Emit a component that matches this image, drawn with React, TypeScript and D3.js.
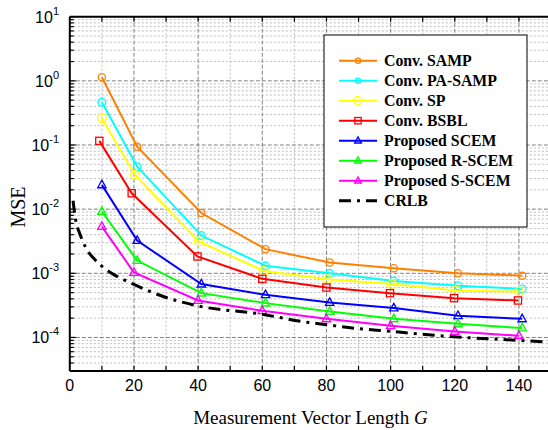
import React from "react";
import * as d3 from "d3";

// ---- Data ----
const sampX = [10, 21, 41, 61, 81, 101, 121, 141];
const sampY = [1.14, 0.094, 0.0087, 0.00238, 0.00147, 0.0012, 0.001, 0.00092];

const paSampX = [10, 21, 41, 61, 81, 101, 121, 141];
const paSampY = [0.464, 0.0461, 0.00388, 0.00131, 0.001, 0.00076, 0.00064, 0.00057];

const spX = [10, 20.3, 40.2, 60.5, 80.3, 100.5, 120.3, 140];
const spY = [0.261, 0.0342, 0.00313, 0.00109, 0.00081, 0.00068, 0.00054, 0.00052];

const bsblX = [9.2, 19.3, 39.8, 60, 80, 99.8, 119.8, 139.7];
const bsblY = [0.116, 0.0177, 0.00183, 0.00082, 0.0006, 0.00049, 0.00041, 0.000377];

const scemX = [10, 21, 41, 61, 81, 101, 121, 141];
const scemY = [0.0239, 0.00324, 0.000679, 0.000462, 0.00035, 0.000287, 0.000218, 0.000195];

const rscemX = [10, 21, 41, 61, 81, 101, 121, 141];
const rscemY = [0.00918, 0.00158, 0.000491, 0.000343, 0.000254, 0.000195, 0.000163, 0.00014];

const sscemX = [10, 20, 40, 60, 80, 100, 120, 140];
const sscemY = [0.00535, 0.00103, 0.000377, 0.00026, 0.000195, 0.000152, 0.000124, 0.000106];

const crlbX = [1, 2, 3, 5, 8, 11.5, 15, 20, 30, 40, 60, 72, 80, 90, 100, 106, 118, 140, 150];
const crlbY = [0.0135, 0.0061, 0.0043, 0.0025, 0.0016, 0.00113, 0.00088, 0.00067, 0.00042, 0.00031, 0.00023, 0.000178, 0.000158, 0.000137, 0.000125, 0.000117, 0.000104, 0.00009, 0.000084];

const legendLabels = [
  "Conv. SAMP",
  "Conv. PA-SAMP",
  "Conv. SP",
  "Conv. BSBL",
  "Proposed SCEM",
  "Proposed R-SCEM",
  "Proposed S-SCEM",
  "CRLB",
];

const xTicks = [0, 20, 40, 60, 80, 100, 120, 140];
const yExponents = [-4, -3, -2, -1, 0, 1];

type Series = { label: string; xs: number[]; ys: number[]; color: string; marker: string; size: number };

const series: Series[] = [
  { label: legendLabels[0], xs: sampX, ys: sampY, color: "#FF8000", marker: "circle", size: 3.6 },
  { label: legendLabels[1], xs: paSampX, ys: paSampY, color: "#00FFFF", marker: "circle", size: 3.8 },
  { label: legendLabels[2], xs: spX, ys: spY, color: "#FFFF00", marker: "circle", size: 4.3 },
  { label: legendLabels[3], xs: bsblX, ys: bsblY, color: "#FF0000", marker: "square", size: 3.6 },
  { label: legendLabels[4], xs: scemX, ys: scemY, color: "#0000FF", marker: "triangle", size: 4 },
  { label: legendLabels[5], xs: rscemX, ys: rscemY, color: "#00FF00", marker: "triangle", size: 4 },
  { label: legendLabels[6], xs: sscemX, ys: sscemY, color: "#FF00FF", marker: "triangle", size: 4 },
];

const W = 548;
const H = 430;
const left = 69.8;
const right = 551;
const top = 16.7;
const bottom = 371;

function Marker({ type, x, y, s, color }: { type: string; x: number; y: number; s: number; color: string }) {
  if (type === "circle") return <circle cx={x} cy={y} r={s} fill="none" stroke={color} strokeWidth={1.3} />;
  if (type === "square")
    return <rect x={x - s} y={y - s} width={2 * s} height={2 * s} fill="none" stroke={color} strokeWidth={1.3} />;
  const h = s * 1.9;
  const p = `M${x},${y - h * 0.62} L${x + s * 1.05},${y + h * 0.38} L${x - s * 1.05},${y + h * 0.38} Z`;
  return <path d={p} fill="none" stroke={color} strokeWidth={1.3} />;
}

export default function App() {
  const x = d3.scaleLinear().domain([0, 150]).range([left, right]);
  const y = d3.scaleLog().domain([3e-5, 10]).range([bottom, top]);

  const line = d3
    .line<[number, number]>()
    .x((d) => x(d[0]))
    .y((d) => y(d[1]));
  const crlbLine = d3
    .line<[number, number]>()
    .x((d) => x(d[0]))
    .y((d) => y(d[1]))
    .curve(d3.curveMonotoneX);

  const minorY: number[] = [];
  for (let e = -5; e <= 0; e++) {
    for (let m = 2; m <= 9; m++) {
      const v = m * Math.pow(10, e);
      if (v >= 3e-5 && v <= 10) minorY.push(v);
    }
  }
  const majorY = yExponents.map((e) => Math.pow(10, e));
  const minorX = d3.range(10, 151, 20);
  const majorX = d3.range(20, 141, 20);
  const allX = d3.range(10, 151, 10);

  const legX = 324;
  const legY = 35;
  const legW = 203;
  const legH = 192;

  return (
    <svg width={W} height={H} style={{ position: "absolute", left: 0, top: 0 }} fontFamily="'Liberation Sans', Arial, sans-serif">
      <defs>
        <clipPath id="plotclip">
          <rect x={left} y={top} width={right - left} height={bottom - top} />
        </clipPath>
      </defs>
      <rect x={0} y={0} width={W} height={H} fill="#fff" />
      {/* grid */}
      <g>
        {minorY.map((v, i) => (
          <line key={"my" + i} x1={left} x2={right} y1={y(v)} y2={y(v)} stroke="#bdbdbd" strokeWidth={1} strokeDasharray="2,2" />
        ))}
        {minorX.map((v, i) => (
          <line key={"mx" + i} x1={x(v)} x2={x(v)} y1={top} y2={bottom} stroke="#bdbdbd" strokeWidth={1} strokeDasharray="2,2" />
        ))}
        {majorY.map((v, i) => (
          <line key={"My" + i} x1={left} x2={right} y1={y(v)} y2={y(v)} stroke="#808080" strokeWidth={1} strokeDasharray="4,2" />
        ))}
        {majorX.map((v, i) => (
          <line key={"Mx" + i} x1={x(v)} x2={x(v)} y1={top} y2={bottom} stroke="#808080" strokeWidth={1} strokeDasharray="4,2" />
        ))}
      </g>
      {/* data */}
      <g clipPath="url(#plotclip)">
        {series.map((s, i) => (
          <g key={"s" + i}>
            <path
              d={line(s.xs.map((xv, j) => [xv, s.ys[j]] as [number, number])) || ""}
              fill="none"
              stroke={s.color}
              strokeWidth={2}
            />
            {s.xs.map((xv, j) => (
              <Marker key={j} type={s.marker} x={x(xv)} y={y(s.ys[j])} s={s.size} color={s.color} />
            ))}
          </g>
        ))}
        <path
          d={crlbLine(crlbX.map((xv, j) => [xv, crlbY[j]] as [number, number])) || ""}
          fill="none"
          stroke="#000"
          strokeWidth={3}
          strokeDasharray="12,6,3,6"
        />
      </g>
      {/* axes */}
      <g stroke="#000">
        <line x1={left} x2={right} y1={bottom} y2={bottom} strokeWidth={2} />
        <line x1={left} x2={right} y1={top} y2={top} strokeWidth={2} />
        <line x1={left} x2={left} y1={top} y2={bottom} strokeWidth={2} />
        {allX.map((v, i) => (
          <g key={"tx" + i}>
            <line x1={x(v)} x2={x(v)} y1={bottom} y2={bottom - 5} strokeWidth={1.2} />
            <line x1={x(v)} x2={x(v)} y1={top} y2={top + 5} strokeWidth={1.2} />
          </g>
        ))}
        {majorY.map((v, i) => (
          <line key={"ty" + i} x1={left} x2={left + 6} y1={y(v)} y2={y(v)} strokeWidth={1.2} />
        ))}
        {minorY.map((v, i) => (
          <line key={"tmy" + i} x1={left} x2={left + 4} y1={y(v)} y2={y(v)} strokeWidth={1.2} />
        ))}
      </g>
      {/* tick labels */}
      <g fontSize={16} fill="#000">
        {xTicks.map((v, i) => (
          <text key={"xl" + i} x={x(v)} y={391} textAnchor="middle">
            {v}
          </text>
        ))}
        {yExponents.map((e, i) => (
          <text key={"yl" + i} x={59} y={y(Math.pow(10, e)) + 6} textAnchor="end">
            10
            <tspan dy={-8} fontSize={11}>
              {e}
            </tspan>
          </text>
        ))}
      </g>
      {/* axis titles */}
      <text x={(left + right) / 2} y={424} textAnchor="middle" fontFamily="'Liberation Serif', 'Times New Roman', serif" fontSize={19}>
        Measurement Vector Length <tspan fontStyle="italic">G</tspan>
      </text>
      <text
        transform={`translate(25,207) rotate(-90)`}
        textAnchor="middle"
        fontFamily="'Liberation Serif', 'Times New Roman', serif"
        fontSize={20}
      >
        MSE
      </text>
      {/* legend */}
      <g>
        <rect x={legX} y={legY} width={legW} height={legH} fill="#fff" stroke="#000" strokeWidth={1} />
        {legendLabels.map((lab, i) => {
          const cy = 60.7 + i * 20;
          const s = series[i];
          return (
            <g key={"lg" + i}>
              {s ? (
                <>
                  <line x1={339} x2={377} y1={cy} y2={cy} stroke={s.color} strokeWidth={2} />
                  <Marker type={s.marker} x={358} y={cy} s={s.marker === "circle" ? (i === 2 ? 4 : 2.6) : 3.2} color={s.color} />
                </>
              ) : (
                <line x1={339} x2={377} y1={cy} y2={cy} stroke="#000" strokeWidth={3} strokeDasharray="12,6,3,6" />
              )}
              <text
                x={384}
                y={cy + 5.5}
                fontFamily="'Liberation Serif', 'Times New Roman', serif"
                fontWeight="bold"
                fontSize={15.8}
              >
                {lab}
              </text>
            </g>
          );
        })}
      </g>
    </svg>
  );
}
